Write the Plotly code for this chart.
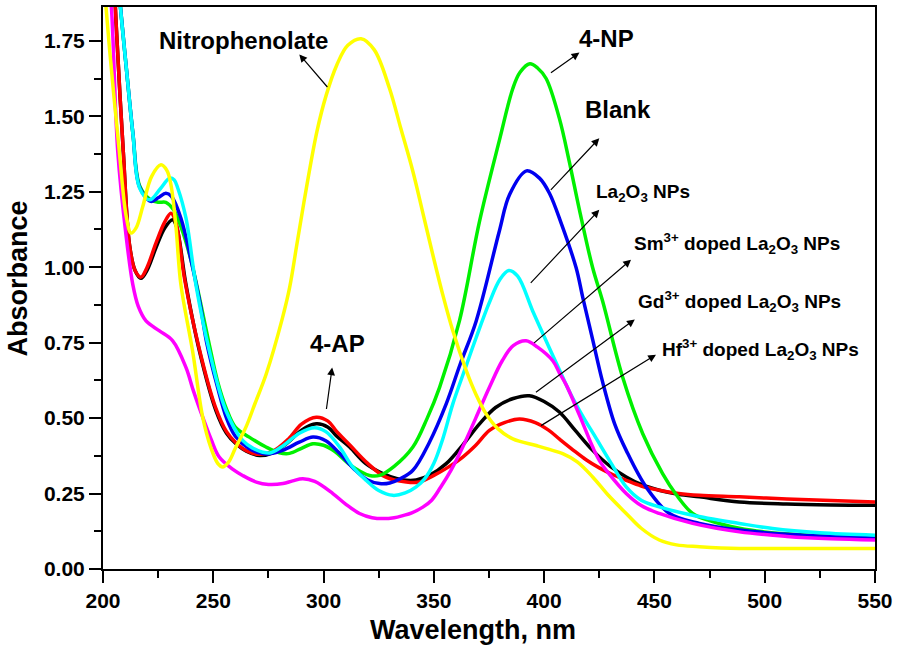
import plotly.graph_objects as go

# ---------------- data ----------------
np4_x = [206.3, 207.9, 210.6, 213.6, 216.6, 221.2, 225, 228.5, 232, 236, 240, 244, 248, 252, 256, 260, 266.3,
         273.9, 280, 284.6, 290, 295.2, 300, 305, 312, 320.8, 325.4, 332, 340.5, 347, 352.6, 361.6, 370.7,
         379.7, 385.8, 389, 393.5, 397, 400.9, 406.9, 411.4, 416, 422, 426.5, 435.6, 444.7, 453.7, 460,
         467.3, 475, 488.5, 500, 520, 550]
np4_y = [2.0, 1.862, 1.658, 1.44, 1.27, 1.225, 1.215, 1.215, 1.19, 1.12, 1.02, 0.89, 0.75, 0.62, 0.53, 0.47,
         0.437, 0.404, 0.385, 0.383, 0.40, 0.415, 0.41, 0.39, 0.345, 0.31, 0.31, 0.34, 0.404, 0.50, 0.602,
         0.822, 1.152, 1.42, 1.592, 1.645, 1.674, 1.66, 1.625, 1.493, 1.35, 1.19, 0.998, 0.888, 0.635,
         0.448, 0.316, 0.245, 0.184, 0.16, 0.135, 0.123, 0.112, 0.105]

blank_x = [206.3, 207.9, 210.6, 213.6, 216.6, 221.7, 225, 228.5, 231, 235.3, 240, 244, 247, 252, 256, 260,
           266, 272, 275.5, 282, 289, 295.2, 301, 307, 314, 320, 325.4, 330, 335, 340.5, 348, 355.6, 362,
           369.2, 379.7, 384.3, 392, 397.9, 402.4, 408, 414.5, 417.5, 422, 426.5, 432, 437.2, 446.2, 456.8,
           470.4, 488.5, 510, 530, 550]
blank_y = [2.0, 1.862, 1.658, 1.44, 1.265, 1.218, 1.23, 1.245, 1.235, 1.163, 1.02, 0.88, 0.75, 0.60, 0.50,
           0.44, 0.40, 0.383, 0.382, 0.395, 0.42, 0.437, 0.425, 0.385, 0.33, 0.295, 0.283, 0.285, 0.30,
           0.327, 0.42, 0.547, 0.68, 0.822, 1.12, 1.24, 1.319, 1.295, 1.245, 1.14, 0.998, 0.90, 0.76, 0.62,
           0.48, 0.393, 0.272, 0.184, 0.151, 0.129, 0.115, 0.108, 0.105]

la_x = [206.5, 207.9, 210.6, 213.6, 216.6, 221.2, 226, 230.2, 232.3, 234, 237.6, 242.1, 248.2, 255.7, 263.3,
        268, 272.4, 276, 282, 289, 296, 301, 307.3, 313, 319.3, 325, 331.4, 337, 342, 346, 350, 354, 358.6,
        364, 369.2, 375, 380, 384, 388, 394.8, 400, 406.9, 412, 418, 423, 430, 437.2, 444, 452.2, 467.3,
        488.5, 503.6, 525, 550]
la_y = [2.0, 1.862, 1.658, 1.438, 1.262, 1.223, 1.26, 1.295, 1.289, 1.26, 1.163, 0.943, 0.723, 0.525, 0.426,
        0.40, 0.387, 0.385, 0.41, 0.45, 0.468, 0.455, 0.404, 0.34, 0.294, 0.26, 0.244, 0.252, 0.272, 0.30,
        0.35, 0.43, 0.547, 0.66, 0.767, 0.88, 0.96, 0.989, 0.97, 0.855, 0.77, 0.66, 0.58, 0.50, 0.44, 0.355,
        0.272, 0.228, 0.206, 0.178, 0.151, 0.134, 0.12, 0.112]

sm_x = [202, 203.8, 206.7, 210.4, 213.5, 216, 219.5, 225.6, 231.6, 237.6, 241, 245.2, 249, 252.7, 258.9,
        263.3, 269.5, 275, 281.6, 286, 290.6, 296, 304.2, 310, 316.3, 322, 327, 332, 336, 340, 345, 349,
        353, 358, 363.1, 369, 375.2, 381, 386, 391.8, 397, 403.9, 406.9, 410, 416, 422, 425, 430, 437.2,
        444, 452.2, 467.3, 488.5, 510, 530, 550]
sm_y = [2.0, 1.862, 1.383, 1.108, 0.943, 0.87, 0.822, 0.789, 0.756, 0.668, 0.59, 0.503, 0.43, 0.371, 0.33,
        0.31, 0.288, 0.28, 0.283, 0.292, 0.299, 0.29, 0.25, 0.215, 0.184, 0.17, 0.167, 0.17, 0.177, 0.186,
        0.205, 0.228, 0.27, 0.33, 0.404, 0.50, 0.602, 0.69, 0.74, 0.756, 0.735, 0.69, 0.65, 0.61, 0.51,
        0.404, 0.36, 0.31, 0.25, 0.21, 0.184, 0.151, 0.123, 0.108, 0.10, 0.096]

gd_x = [204.8, 206, 209.2, 212, 214.5, 217.2, 220, 224, 228, 231.6, 233.5, 237.6, 243.7, 251.2, 256, 260.3,
        265, 271, 277, 284, 290, 296.7, 302, 306, 311.8, 319, 326.9, 333, 337.5, 342, 348, 355.6, 363,
        370.7, 378, 386, 393.3, 400, 406.9, 414, 422, 430, 437.2, 444, 452.2, 461, 470.4, 488.5, 510, 530,
        550]
gd_y = [2.0, 1.80, 1.383, 1.075, 0.99, 0.963, 0.99, 1.064, 1.13, 1.157, 1.13, 0.943, 0.723, 0.525, 0.45,
        0.415, 0.39, 0.376, 0.385, 0.42, 0.46, 0.481, 0.47, 0.44, 0.404, 0.35, 0.316, 0.30, 0.294, 0.295,
        0.31, 0.349, 0.41, 0.481, 0.535, 0.565, 0.574, 0.555, 0.52, 0.46, 0.393, 0.34, 0.305, 0.28, 0.261,
        0.248, 0.239, 0.222, 0.215, 0.212, 0.211]

hf_x = [204.8, 206, 209.2, 212, 214.5, 217.2, 220, 224, 228, 230.8, 233, 237, 243.3, 250.8, 256, 260, 265,
        270.5, 277, 284, 290, 296.7, 302, 306, 312, 320, 328, 337.5, 343.5, 350, 356, 363.1, 369, 375.2,
        382, 388.8, 396, 402, 407, 413, 419, 425, 431, 437.2, 444, 452.2, 461, 470.4, 488.5, 510, 530, 550]
hf_y = [2.0, 1.80, 1.383, 1.075, 0.99, 0.967, 1.0, 1.08, 1.15, 1.179, 1.15, 0.96, 0.74, 0.54, 0.455, 0.42,
        0.392, 0.38, 0.39, 0.43, 0.48, 0.503, 0.49, 0.455, 0.41, 0.35, 0.305, 0.288, 0.288, 0.31, 0.335,
        0.371, 0.41, 0.459, 0.485, 0.497, 0.485, 0.46, 0.43, 0.395, 0.362, 0.335, 0.313, 0.294, 0.275,
        0.261, 0.25, 0.244, 0.239, 0.232, 0.227, 0.222]

nph_x = [200, 203, 207.4, 210.5, 212.7, 215, 218, 222, 226.3, 229, 230.8, 233, 235.3, 240.6, 245.2, 249,
         252, 254.2, 257, 260, 264.8, 269, 274, 281.4, 284.6, 288, 292.2, 297, 301.2, 306, 311, 317, 323,
         329.9, 335, 340.5, 345, 349.5, 354, 358.6, 364.7, 369, 373.7, 379, 385.8, 396.4, 402, 408.4, 415,
         422, 429, 437.2, 444, 452.2, 460, 470.4, 488.5, 510, 530, 550]
nph_y = [1.98, 1.72, 1.383, 1.17, 1.113, 1.13, 1.2, 1.3, 1.339, 1.32, 1.273, 1.14, 0.943, 0.723, 0.503,
         0.40, 0.35, 0.338, 0.355, 0.40, 0.47, 0.55, 0.646, 0.833, 0.932, 1.08, 1.262, 1.45, 1.57, 1.67,
         1.735, 1.757, 1.72, 1.592, 1.46, 1.317, 1.18, 1.042, 0.91, 0.789, 0.657, 0.58, 0.514, 0.465, 0.431,
         0.409, 0.397, 0.382, 0.355, 0.305, 0.245, 0.184, 0.135, 0.096, 0.08, 0.074, 0.068, 0.068, 0.068,
         0.068]

series = [
    ("Gd3+ doped La2O3 NPs", gd_x, gd_y, "#000000"),
    ("Hf3+ doped La2O3 NPs", hf_x, hf_y, "#FF0000"),
    ("4-NP", np4_x, np4_y, "#00F000"),
    ("Blank", blank_x, blank_y, "#0000F0"),
    ("La2O3 NPs", la_x, la_y, "#00FFFF"),
    ("Sm3+ doped La2O3 NPs", sm_x, sm_y, "#FF00FF"),
    ("Nitrophenolate", nph_x, nph_y, "#FFFF00"),
]

# labels: (text, x, y, size)
labels = [
    ("Nitrophenolate", 263.8, 1.752, 24),
    ("4-NP", 428.2, 1.759, 24),
    ("Blank", 433.7, 1.523, 24),
    ("La<sub>2</sub>O<sub>3</sub> NPs", 445.0, 1.245, 19),
    ("Sm<sup>3+</sup> doped La<sub>2</sub>O<sub>3</sub> NPs", 487.6, 1.080, 19),
    ("Gd<sup>3+</sup> doped La<sub>2</sub>O<sub>3</sub> NPs", 488.5, 0.885, 19),
    ("Hf<sup>3+</sup> doped La<sub>2</sub>O<sub>3</sub> NPs", 498.0, 0.726, 19),
    ("4-AP", 306.3, 0.746, 24),
]

# arrows: (tail_x, tail_y, head_x, head_y)
arrows = [
    (302.3, 1.592, 289.0, 1.705),
    (402.4, 1.641, 416.0, 1.711),
    (402.4, 1.251, 425.0, 1.427),
    (393.3, 0.943, 425.0, 1.190),
    (394.8, 0.745, 439.4, 1.025),
    (395.6, 0.582, 441.1, 0.827),
    (397.9, 0.472, 450.7, 0.710),
    (301.2, 0.525, 303.9, 0.668),
]

FONT = "Liberation Sans, Arial, sans-serif"

fig = go.Figure()
for name, xs, ys, col in series:
    fig.add_trace(go.Scatter(x=xs, y=ys, mode="lines", name=name,
                             line=dict(color=col, width=3.5, shape="spline", smoothing=1.0)))

for text, x, y, size in labels:
    fig.add_annotation(x=x, y=y, text=text, showarrow=False,
                       xanchor="center", yanchor="middle",
                       font=dict(family=FONT, size=size, color="black", weight="bold"))

for tx, ty, hx, hy in arrows:
    fig.add_annotation(x=hx, y=hy, ax=tx, ay=ty, xref="x", yref="y", axref="x", ayref="y",
                       text="", showarrow=True, arrowhead=2, arrowsize=1.3, arrowwidth=1.2,
                       arrowcolor="black", standoff=0, startstandoff=0)

# axis titles
fig.add_annotation(x=0.479, y=-0.108, xref="paper", yref="paper", text="Wavelength, nm",
                   showarrow=False, xanchor="center", yanchor="middle",
                   font=dict(family=FONT, size=27, color="black", weight="bold"))
fig.add_annotation(x=-0.110, y=0.517, xref="paper", yref="paper", text="Absorbance",
                   showarrow=False, textangle=-90, xanchor="center", yanchor="middle",
                   font=dict(family=FONT, size=27, color="black", weight="bold"))

axis_common = dict(showline=True, linecolor="black", linewidth=2, mirror=True,
                   ticks="outside", ticklen=12, tickwidth=2, tickcolor="black",
                   showgrid=False, zeroline=False,
                   tickfont=dict(family=FONT, size=21, color="black", weight="bold"))

fig.update_xaxes(range=[200, 550], tick0=200, dtick=50,
                 minor=dict(dtick=25, ticks="outside", ticklen=7, tickwidth=2, tickcolor="black",
                            showgrid=False),
                 **axis_common)
fig.update_yaxes(range=[0, 1.862], tick0=0, dtick=0.25, tickformat=".2f",
                 minor=dict(dtick=0.125, ticks="outside", ticklen=7, tickwidth=2, tickcolor="black",
                            showgrid=False),
                 **axis_common)

fig.update_layout(width=898, height=652, margin=dict(l=103, r=21, t=5, b=83),
                  plot_bgcolor="white", paper_bgcolor="white", showlegend=False,
                  font=dict(family=FONT, color="black"))

fig.write_html("out.html", config={"displayModeBar": False},
               post_script="document.body.style.margin='0';")
